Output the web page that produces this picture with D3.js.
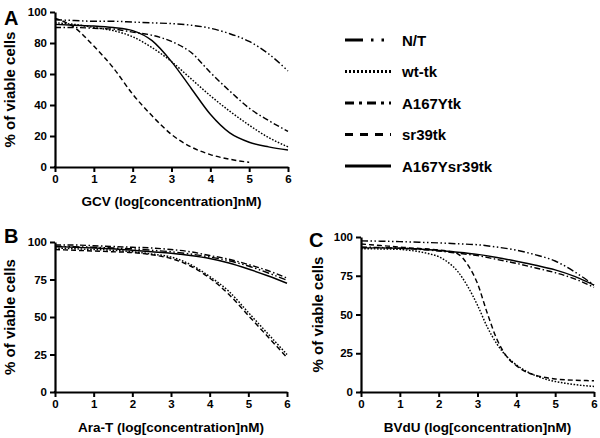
<!DOCTYPE html>
<html>
<head>
<meta charset="utf-8">
<script src="https://cdn.jsdelivr.net/npm/d3@7/dist/d3.min.js"></script>
<style>
  html, body { margin: 0; padding: 0; background: #fff; }
  svg { display: block; font-family: "Liberation Sans", Arial, Helvetica, sans-serif; font-weight: bold; }
</style>
</head>
<body>
<svg id="chart" width="600" height="438"></svg>
<script>
// ---------- data ----------
const doses = [0, 0.5, 1, 1.5, 2, 2.5, 3, 3.5, 4, 4.5, 5, 5.5, 6];
const dosesShort = [0, 0.5, 1, 1.5, 2, 2.5, 3, 3.5, 4, 4.5, 5];
const dosesFine = [0, 0.25, 0.5, 0.75, 1, 1.25, 1.5, 1.75, 2, 2.25, 2.5, 2.75, 3,
                   3.25, 3.5, 3.75, 4, 4.25, 4.5, 4.75, 5, 5.25, 5.5, 5.75, 6];

const seriesNames = ["N/T", "wt-tk", "A167Ytk", "sr39tk", "A167Ysr39tk"];

// Panel A: GCV
const gcvNT        = [95, 94.5, 94, 94, 93.5, 93, 92.5, 91.5, 89.5, 86, 81, 73, 62];
const gcvWt        = [93, 92, 90, 88, 84, 77, 68, 57, 46, 36, 27, 19, 13];
const gcvA167Y     = [90, 90, 89.5, 89, 87, 85, 81, 74, 61, 49, 38, 30, 23];
const gcvSr39      = [96, 90, 78, 64, 47, 33, 21, 13, 8, 5, 3];
const gcvA167Ysr39 = [92, 91.5, 91, 90, 88, 81.5, 68, 51, 34, 22, 16, 13, 11];

// Panel B: Ara-T
const araNT        = [97, 96.8, 96.5, 96, 95.5, 94.5, 93.5, 92, 90, 87.5, 84, 79.5, 74.5];
const araWt        = [96, 95.5, 95, 94.5, 93.5, 92, 90, 85, 77, 67, 53, 39, 25];
const araA167Y     = [98, 98, 97.5, 97, 96.5, 96, 95, 93.5, 91, 88.5, 85, 81, 76];
const araSr39      = [95, 94.5, 94, 93.5, 93, 91.5, 89, 84, 76, 65, 51, 37, 23];
const araA167Ysr39 = [97, 96.5, 96, 95.5, 94.5, 93.5, 92.5, 91, 89, 86, 82, 77.5, 72.5];

// Panel C: BVdU
const bvduNT        = [97.5, 97.3, 97, 96.6, 96.2, 95.6, 95, 93.5, 91.5, 88.5, 84.5, 77.5, 69];
const bvduWt        = [92.5, 92.4, 92.3, 92.2, 92, 91.4, 90.5, 89.2, 87.3, 83.5, 77.5, 68, 56,
                       42, 31, 23, 17.5, 13.5, 10.5, 8.3, 6.8, 5.7, 4.8, 4.1, 3.6];
const bvduA167Y     = [93.5, 93.2, 92.8, 92, 91, 89.5, 88, 85.5, 83, 80, 77, 73, 67.5];
const bvduSr39      = [95.5, 95, 94.5, 94, 93.5, 93, 92.6, 92.2, 91.7, 90.8, 89, 82, 70,
                       51, 34, 23, 17, 13, 10.8, 9.3, 8.4, 7.9, 7.6, 7.4, 7.2];
const bvduA167Ysr39 = [93, 93, 92.8, 92.3, 91.3, 90.2, 88.8, 86.8, 84.4, 81.8, 78.8, 74.6, 69];

const xTicks = [0, 1, 2, 3, 4, 5, 6];
const yTicksA = [0, 20, 40, 60, 80, 100];
const yTicksBC = [0, 25, 50, 75, 100];

// ---------- styles ----------
const curveDash = {
  "N/T": "7,2.5,1.5,2.5,1.5,2.5",
  "wt-tk": "1.6,1.6",
  "A167Ytk": "6,2.5,1.5,2.5",
  "sr39tk": "5,3",
  "A167Ysr39tk": null
};
const legendDash = {
  "N/T": "18,8,2.5,8,2.5,8",
  "wt-tk": "2,2",
  "A167Ytk": "9,5,3,5",
  "sr39tk": "8,7",
  "A167Ysr39tk": null
};

const svg = d3.select("#chart");

function panel(cfg) {
  const x = d3.scaleLinear().domain([0, 6]).range([cfg.x0, cfg.x1]);
  const y = d3.scaleLinear().domain([0, 100]).range([cfg.y1, cfg.y0]);
  const g = svg.append("g");

  const line = d3.line()
    .x(d => x(d[0]))
    .y(d => y(d[1]))
    .curve(d3.curveMonotoneX);
  cfg.series.forEach(s => {
    const pts = s.values.map((v, i) => [s.doses[i], v]);
    g.append("path")
      .attr("d", line(pts))
      .attr("fill", "none")
      .attr("stroke", "#000")
      .attr("stroke-width", 1.45)
      .attr("stroke-dasharray", curveDash[s.name]);
  });

  const ax = g.append("g")
    .attr("transform", `translate(0,${cfg.y1})`)
    .call(d3.axisBottom(x).tickValues(xTicks).tickFormat(d3.format("d")).tickSizeInner(5).tickSizeOuter(0).tickPadding(3));
  const ay = g.append("g")
    .attr("transform", `translate(${cfg.x0},0)`)
    .call(d3.axisLeft(y).tickValues(cfg.yTicks).tickSizeInner(5).tickSizeOuter(0).tickPadding(3));
  [ax, ay].forEach(a => {
    a.select(".domain").attr("stroke", "#000").attr("stroke-width", 2.2);
    a.selectAll(".tick line").attr("stroke", "#000").attr("stroke-width", 2);
    a.selectAll(".tick text").attr("fill", "#000")
      .style("font-size", "11.5px").style("font-weight", "bold")
      .style("font-family", "'Liberation Sans', Arial, sans-serif");
  });
  g.append("line")
    .attr("x1", cfg.x0 - 1.1).attr("x2", cfg.x0 + 1)
    .attr("y1", cfg.y1).attr("y2", cfg.y1)
    .attr("stroke", "#000").attr("stroke-width", 2.2);

  g.append("text")
    .attr("x", (cfg.x0 + cfg.x1) / 2)
    .attr("y", cfg.xTitleY)
    .attr("text-anchor", "middle")
    .style("font-size", "13.5px")
    .text(cfg.xTitle);
  g.append("text")
    .attr("transform", `translate(${cfg.yTitleX},${(cfg.y0 + cfg.y1) / 2}) rotate(-90)`)
    .attr("text-anchor", "middle")
    .style("font-size", "15px")
    .text("% of viable cells");

  g.append("text")
    .attr("x", cfg.letterX)
    .attr("y", cfg.letterY)
    .style("font-size", "20px")
    .text(cfg.letter);
}

panel({
  letter: "A", letterX: 4, letterY: 25,
  x0: 55, x1: 288, y0: 12, y1: 167,
  yTicks: yTicksA,
  xTitle: "GCV (log[concentration]nM)", xTitleY: 206, yTitleX: 15,
  series: [
    { name: "N/T", doses: doses, values: gcvNT },
    { name: "wt-tk", doses: doses, values: gcvWt },
    { name: "A167Ytk", doses: doses, values: gcvA167Y },
    { name: "sr39tk", doses: dosesShort, values: gcvSr39 },
    { name: "A167Ysr39tk", doses: doses, values: gcvA167Ysr39 }
  ]
});

panel({
  letter: "B", letterX: 4, letterY: 243,
  x0: 55, x1: 287, y0: 242, y1: 392,
  yTicks: yTicksBC,
  xTitle: "Ara-T (log[concentration]nM)", xTitleY: 432, yTitleX: 15,
  series: [
    { name: "N/T", doses: doses, values: araNT },
    { name: "wt-tk", doses: doses, values: araWt },
    { name: "A167Ytk", doses: doses, values: araA167Y },
    { name: "sr39tk", doses: doses, values: araSr39 },
    { name: "A167Ysr39tk", doses: doses, values: araA167Ysr39 }
  ]
});

panel({
  letter: "C", letterX: 309, letterY: 247,
  x0: 361, x1: 594, y0: 237, y1: 392,
  yTicks: yTicksBC,
  xTitle: "BVdU (log[concentration]nM)", xTitleY: 432, yTitleX: 323,
  series: [
    { name: "N/T", doses: doses, values: bvduNT },
    { name: "wt-tk", doses: dosesFine, values: bvduWt },
    { name: "A167Ytk", doses: doses, values: bvduA167Y },
    { name: "sr39tk", doses: dosesFine, values: bvduSr39 },
    { name: "A167Ysr39tk", doses: doses, values: bvduA167Ysr39 }
  ]
});

const legend = svg.append("g");
seriesNames.forEach((name, i) => {
  const yy = 40 + i * 31.5;
  legend.append("line")
    .attr("x1", 345).attr("x2", 391)
    .attr("y1", yy).attr("y2", yy)
    .attr("stroke", "#000").attr("stroke-width", 2.8)
    .attr("stroke-dasharray", legendDash[name]);
  legend.append("text")
    .attr("x", 402).attr("y", yy + 5.5)
    .style("font-size", "15px")
    .text(name);
});
</script>
</body>
</html>
